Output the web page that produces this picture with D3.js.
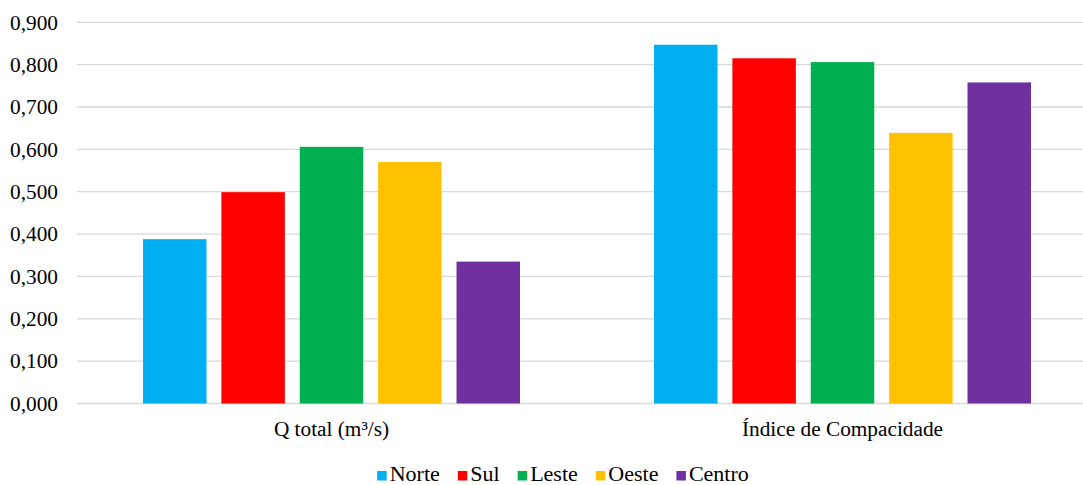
<!DOCTYPE html>
<html><head><meta charset="utf-8">
<script src="https://cdn.jsdelivr.net/npm/d3@7"></script>
<style>body{margin:0;background:#fff}svg{display:block}</style>
</head><body><svg id="c" width="1083" height="485"></svg>
<script>
const categories = ["Q total (m³/s)", "Índice de Compacidade"];
const seriesNames = ["Norte", "Sul", "Leste", "Oeste", "Centro"];
const seriesColors = ["#00B0F0", "#FF0000", "#00B050", "#FFC000", "#7030A0"];
const norte = [0.388, 0.847];
const sul = [0.499, 0.815];
const leste = [0.606, 0.806];
const oeste = [0.570, 0.639];
const centro = [0.335, 0.758];
const yTicks = [0, 0.1, 0.2, 0.3, 0.4, 0.5, 0.6, 0.7, 0.8, 0.9];

const seriesValues = [norte, sul, leste, oeste, centro];
const FONT = "'Liberation Serif', 'Times New Roman', 'DejaVu Serif', serif";
const svg = d3.select("#c").attr("font-family", FONT);
const mLeft = 76, mRight = 1098, mTop = 22.3, mBottom = 403.5;
const fs = 21.3;

const y = d3.scaleLinear().domain([0, 0.9]).range([mBottom, mTop]);
const x0 = d3.scaleBand().domain(categories).range([mLeft, mRight]).padding(0);
const inner = 67;
const x1 = d3.scaleBand().domain(seriesNames).range([inner, x0.bandwidth() - inner]).paddingInner(0.19).paddingOuter(0);

// gridlines
svg.append("g").selectAll("line").data(yTicks).join("line")
  .attr("x1", mLeft + 1).attr("x2", mRight)
  .attr("y1", d => y(d)).attr("y2", d => y(d))
  .attr("stroke", "#D9D9D9").attr("stroke-width", 1.3);

// y labels
svg.append("g").selectAll("text").data(yTicks).join("text")
  .attr("font-family", FONT)
  .attr("x", 58).attr("y", d => y(d)).attr("dy", "0.34em")
  .attr("text-anchor", "end").attr("font-size", fs).attr("fill", "#000")
  .text(d => d3.format(".3f")(d).replace(".", ","));

// bars
const g = svg.append("g");
categories.forEach((cat, ci) => {
  seriesNames.forEach((s, si) => {
    const v = seriesValues[si][ci];
    g.append("rect")
      .attr("x", x0(cat) + x1(s)).attr("width", x1.bandwidth())
      .attr("y", y(v)).attr("height", y(0) - y(v))
      .attr("fill", seriesColors[si]);
  });
});

// category labels
svg.append("g").selectAll("text").data(categories).join("text")
  .attr("font-family", FONT)
  .attr("x", d => x0(d) + x0.bandwidth() / 2).attr("y", 436)
  .attr("text-anchor", "middle").attr("font-size", fs).attr("fill", "#000")
  .text(d => d);

// legend
const lg = svg.append("g");
const sq = 9.5, gapT = 3, gapItem = 18, lfs = 22;
let cx = 0;
seriesNames.forEach((s, i) => {
  const it = lg.append("g");
  it.append("rect").attr("x", 0).attr("y", 471).attr("width", sq).attr("height", sq).attr("fill", seriesColors[i]);
  const t = it.append("text").attr("font-family", FONT).attr("x", sq + gapT).attr("y", 480.5)
    .attr("font-size", lfs).attr("fill", "#000").text(s);
  const w = t.node().getComputedTextLength();
  it.attr("transform", `translate(${cx},0)`);
  cx += sq + gapT + w + gapItem;
});
const total = cx - gapItem;
lg.attr("transform", `translate(${563 - total / 2},0)`);
</script></body></html>
